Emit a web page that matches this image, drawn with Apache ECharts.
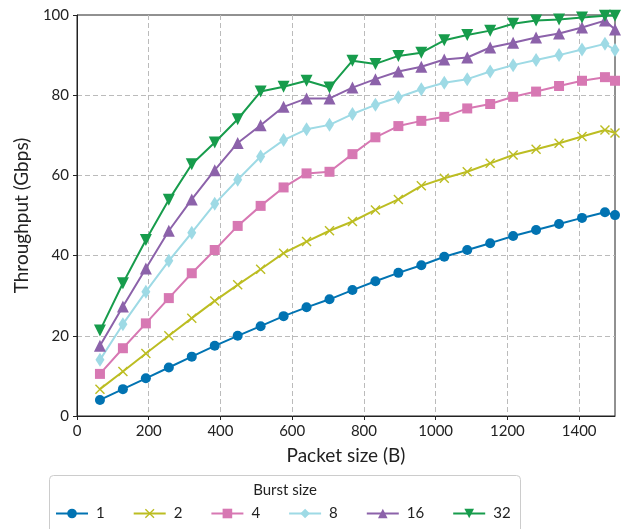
<!DOCTYPE html>
<html>
<head>
<meta charset="utf-8">
<script src="https://cdn.jsdelivr.net/npm/echarts@6/dist/echarts.min.js"></script>
<style>
  html, body { margin: 0; padding: 0; background: #fff; }
  #chart { width: 635px; height: 529px; }
</style>
</head>
<body>
<div id="chart"></div>
<script>
  // packet sizes (B)
  const packetSizes = [64, 128, 192, 256, 320, 384, 448, 512, 576, 640, 704, 768,
    832, 896, 960, 1024, 1088, 1152, 1216, 1280, 1344, 1408, 1472, 1500];

  const burstSizes = ['1', '2', '4', '8', '16', '32'];

  // throughput (Gbps) per burst size
  const burst1 = [4.0, 6.7, 9.4, 12.1, 14.8, 17.5, 20.0, 22.4, 24.9, 27.1, 29.1, 31.4,
    33.6, 35.7, 37.6, 39.7, 41.4, 43.1, 44.9, 46.4, 47.9, 49.4, 50.8, 50.1];
  const burst2 = [6.7, 11.1, 15.6, 20.0, 24.4, 28.7, 32.7, 36.6, 40.6, 43.5, 46.2, 48.5,
    51.4, 54.0, 57.4, 59.3, 60.9, 63.0, 65.1, 66.5, 68.0, 69.7, 71.3, 70.6];
  const burst4 = [10.5, 16.9, 23.1, 29.4, 35.6, 41.4, 47.4, 52.4, 57.0, 60.5, 60.9, 65.3,
    69.5, 72.3, 73.6, 74.6, 76.7, 77.8, 79.6, 80.9, 82.3, 83.6, 84.5, 83.6];
  const burst8 = [14.0, 22.9, 31.0, 38.7, 45.7, 52.9, 58.9, 64.7, 68.8, 71.5, 72.6, 75.3,
    77.6, 79.5, 81.5, 83.1, 84.0, 85.9, 87.5, 88.8, 90.0, 91.4, 92.8, 91.3];
  const burst16 = [17.5, 27.3, 36.8, 46.2, 54.0, 61.3, 68.1, 72.5, 77.1, 79.2, 79.2, 81.9,
    84.0, 85.9, 87.1, 88.9, 89.4, 91.9, 93.1, 94.4, 95.4, 96.9, 98.6, 96.4];
  const burst32 = [21.3, 33.1, 43.9, 53.9, 62.8, 68.2, 74.0, 80.9, 82.1, 83.6, 81.9, 88.6,
    87.8, 89.8, 90.6, 93.7, 95.0, 96.1, 97.8, 98.6, 98.9, 99.4, 99.8, 99.8];

  const allSeries = [burst1, burst2, burst4, burst8, burst16, burst32];

  const colors = ['#0173b2', '#bcbd22', '#d778b3', '#9edae5', '#8c62aa', '#179c4c'];
  const crossPath = 'path://M0,1L1,0L5,4L9,0L10,1L6,5L10,9L9,10L5,6L1,10L0,9L4,5Z';
  const symbols = ['circle', crossPath, 'rect', 'diamond', 'triangle', 'triangle'];
  const symbolSizes = [10, 10, 10, [9, 14], 12, 12];
  const symbolRotates = [0, 0, 0, 0, 0, 180];

  const FONT = 'Lato';

  let chart = echarts.init(document.getElementById('chart'));

  let series = allSeries.map((vals, i) => ({
    name: burstSizes[i],
    type: 'line',
    data: vals.map((v, j) => [packetSizes[j], v]),
    symbol: symbols[i],
    symbolSize: symbolSizes[i],
    symbolRotate: symbolRotates[i],
    showAllSymbol: true,
    lineStyle: { width: 2, color: colors[i] },
    itemStyle: { color: colors[i] },
    emphasis: { disabled: true },
    z: 2 + i
  }));

  let gridLine = { show: true, showMinLine: false, showMaxLine: false,
    lineStyle: { color: '#bbb', type: [5, 3], width: 1 } };

  let option = {
    animation: false,
    color: colors,
    textStyle: { fontFamily: FONT },
    grid: {
      left: 77,
      right: 20,
      top: 15,
      bottom: 113,
      show: true,
      borderColor: '#222',
      borderWidth: 1
    },
    xAxis: {
      type: 'value',
      min: 0,
      max: 1500,
      interval: 200,
      name: 'Packet size (B)',
      nameLocation: 'middle',
      nameGap: 30,
      nameTextStyle: { fontSize: 19, color: '#222', fontFamily: FONT },
      axisLine: { lineStyle: { color: '#222', width: 1 } },
      axisTick: { show: true, length: 4, lineStyle: { color: '#222' } },
      axisLabel: { fontSize: 15, color: '#222', margin: 8, showMaxLabel: false, fontFamily: FONT,
        formatter: v => String(v) },
      splitLine: gridLine
    },
    yAxis: {
      type: 'value',
      min: 0,
      max: 100,
      interval: 20,
      name: 'Throughput (Gbps)',
      nameLocation: 'middle',
      nameGap: 46,
      nameTextStyle: { fontSize: 19, color: '#222', fontFamily: FONT },
      axisLine: { show: true, lineStyle: { color: '#222', width: 1 } },
      axisTick: { show: true, length: 4, lineStyle: { color: '#222' } },
      axisLabel: { fontSize: 15, color: '#222', margin: 8, fontFamily: FONT },
      splitLine: gridLine
    },
    legend: {
      data: burstSizes,
      left: 55,
      top: 506,
      padding: 0,
      itemWidth: 32,
      itemHeight: 12,
      itemGap: 28,
      textStyle: { fontSize: 15, color: '#222', fontFamily: FONT, padding: [0, 0, 0, 3] }
    },
    graphic: [
      {
        type: 'rect',
        shape: { x: 49.5, y: 475.5, width: 471, height: 70, r: 4 },
        style: { fill: '#fff', stroke: '#ccc', lineWidth: 1 },
        z: 0
      },
      {
        type: 'text',
        x: 285,
        y: 490,
        style: {
          text: 'Burst size',
          fontSize: 15,
          fontFamily: FONT,
          fill: '#222',
          textAlign: 'center',
          textVerticalAlign: 'middle'
        },
        z: 1
      }
    ],
    series: series
  };

  chart.setOption(option);
</script>
</body>
</html>
